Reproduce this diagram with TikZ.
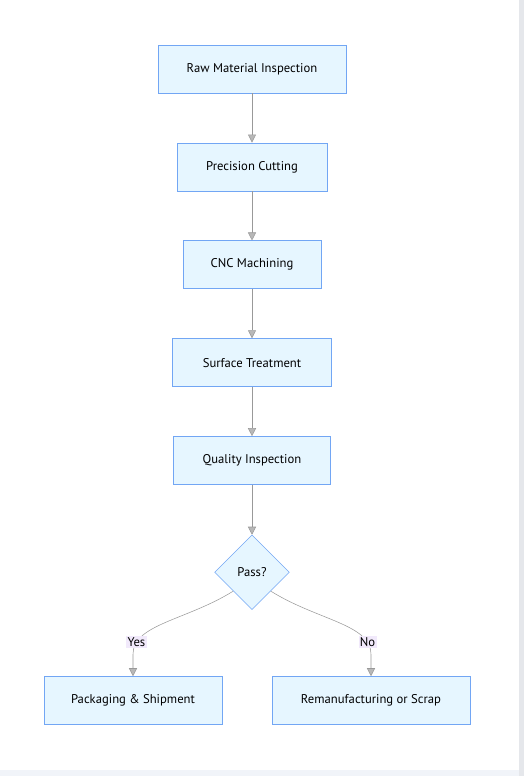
\documentclass[tikz,border=0pt]{standalone}
\usepackage{fontspec}
\setmainfont{PT Sans}
\usepackage{tikz}
\usetikzlibrary{arrows.meta, positioning, shapes.geometric, calc}

\definecolor{boxfill}{HTML}{E6F6FF}
\definecolor{boxline}{HTML}{72A6F4}
\definecolor{flowline}{HTML}{999999}
\definecolor{lblfill}{HTML}{F1E9FB}
\definecolor{edgegray}{HTML}{E5E7EB}
\definecolor{basegray}{HTML}{F1F4F9}

\begin{document}
\begin{tikzpicture}[
	x=0.75pt, y=0.75pt,
	every node/.style={font=\fontsize{9.5pt}{11pt}\selectfont},
	stage/.style={draw=boxline, fill=boxfill, rectangle, minimum height=36pt, inner sep=2pt},
	check/.style={draw=boxline, fill=boxfill, diamond, minimum size=56pt, inner sep=0pt},
	flow/.style={draw=flowline, -{Triangle[open, fill=flowline!70, length=6pt, width=6pt]}},
	lbl/.style={fill=lblfill, inner sep=1pt},
	node distance=37pt,
	]
	
	% page margins
	\useasboundingbox (0,0) rectangle (524,-776);
	\fill[white] (0,0) rectangle (524,-776);
	\fill[edgegray] (519,0) rectangle (524,-776);
	\fill[basegray] (0,-770) rectangle (519,-776);
	
	% Process chain
	\node[stage, minimum width=141pt] (raw) at (252,-69) {Raw Material Inspection};
	\node[stage, minimum width=112.5pt] (cut) [below=of raw] {Precision Cutting};
	\node[stage, minimum width=103.5pt] (cnc) [below=of cut] {CNC Machining};
	\node[stage, minimum width=119.25pt] (surf) [below=of cnc] {Surface Treatment};
	\node[stage, minimum width=117.75pt] (qual) [below=of surf] {Quality Inspection};
	\node[check] (pass) [below=37.5pt of qual] {Pass?};
	
	% Outcomes
	\node[stage, minimum width=133.5pt] (pack) at (133,-700.5) {Packaging \& Shipment};
	\node[stage, minimum width=148.5pt] (reman) at (371,-700.5) {Remanufacturing or Scrap};
	\coordinate (yesbend) at ($(pack.north)+(0,22)$);
	\coordinate (nobend) at ($(reman.north)+(0,22)$);
	
	% Arrows
	\draw[flow] (raw) -- (cut);
	\draw[flow] (cut) -- (cnc);
	\draw[flow] (cnc) -- (surf);
	\draw[flow] (surf) -- (qual);
	\draw[flow] (qual) -- (pass);
	\draw[flow] (pass.south west) .. controls +(212:55) and +(0,30) .. node[lbl, pos=0.85] {Yes} (yesbend) -- (pack.north);
	\draw[flow] (pass.south east) .. controls +(-32:55) and +(0,30) .. node[lbl, pos=0.85] {No} (nobend) -- (reman.north);
	
\end{tikzpicture}
\end{document}
